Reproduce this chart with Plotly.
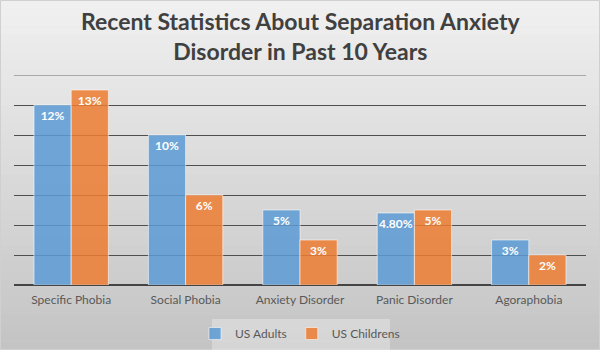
import plotly.graph_objects as go

categories = ["Specific Phobia", "Social Phobia", "Anxiety Disorder", "Panic Disorder", "Agoraphobia"]
adults = [12, 10, 5, 4.8, 3]
children = [13, 6, 3, 5, 2]
adult_labels = ["12%", "10%", "5%", "4.80%", "3%"]
child_labels = ["13%", "6%", "3%", "5%", "2%"]
title_text = "Recent Statistics About Separation Anxiety<br>Disorder in Past 10 Years"
y_max = 14

W, H = 600, 350
L, R, T, B = 14, 14, 75, 65
pw, ph = W - L - R, H - T - B

def px_x(x):
    return (x - L) / pw

def px_y(y):
    return (H - B - y) / ph

fig = go.Figure()
fig.add_trace(go.Bar(
    name="US Adults", x=categories, y=adults, text=adult_labels,
    marker=dict(color="rgba(91,155,213,0.85)", line=dict(color="rgba(255,255,255,0.55)", width=1)),
    textposition="inside", insidetextanchor="end", textangle=0,
    textfont=dict(color="white", size=12, family="Lato", weight="bold"),
))
fig.add_trace(go.Bar(
    name="US Childrens", x=categories, y=children, text=child_labels,
    marker=dict(color="rgba(237,125,49,0.85)", line=dict(color="rgba(255,255,255,0.55)", width=1)),
    textposition="inside", insidetextanchor="end", textangle=0,
    textfont=dict(color="white", size=12, family="Lato", weight="bold"),
))

# background gradient
shapes = []
n = 40
top = (240, 240, 240)
bot = (196, 196, 196)
for i in range(n):
    f = i / (n - 1)
    c = tuple(int(round(top[k] + (bot[k] - top[k]) * f)) for k in range(3))
    y0 = H * i / n
    y1 = H * (i + 1) / n + 0.5
    shapes.append(dict(type="rect", xref="paper", yref="paper", layer="below",
                       x0=px_x(0), x1=px_x(W), y0=px_y(y1), y1=px_y(y0),
                       line=dict(width=0), fillcolor="rgb(%d,%d,%d)" % c))
shapes.append(dict(type="rect", xref="paper", yref="paper", layer="below",
                   x0=px_x(0.5), x1=px_x(W - 0.5), y0=px_y(H - 0.5), y1=px_y(0.5),
                   line=dict(width=1, color="#d0d0d0"), fillcolor="rgba(0,0,0,0)"))
shapes.append(dict(type="rect", xref="paper", yref="paper", layer="below",
                   x0=px_x(212), x1=px_x(390), y0=px_y(H), y1=px_y(319),
                   line=dict(width=0), fillcolor="rgba(235,235,235,0.45)"))
# top gridline
shapes.append(dict(type="line", xref="paper", yref="y", layer="below",
                   x0=0, x1=1, y0=y_max, y1=y_max, line=dict(width=1.2, color="#6a6a6a")))

fig.update_layout(
    width=W, height=H,
    margin=dict(l=L, r=R, t=T, b=B, autoexpand=False),
    paper_bgcolor="#dcdcdc", plot_bgcolor="rgba(0,0,0,0)",
    shapes=shapes,
    annotations=[dict(text=title_text, xref="paper", yref="paper", x=0.5, xanchor="center",
                      y=px_y(5), yanchor="top", showarrow=False, align="center",
                      font=dict(family="Lato", size=23, color="#404040", weight="bold"))],
    barmode="group", bargap=0.35, bargroupgap=0,
    xaxis=dict(showgrid=False, showline=False, ticks="", ticklabelstandoff=6,
               tickfont=dict(family="Lato", size=12, color="#595959")),
    yaxis=dict(range=[0, y_max], dtick=2, showticklabels=False, gridcolor="#4f4f4f", gridwidth=1.2,
               zeroline=True, zerolinecolor="#444444", zerolinewidth=2, showline=False),
    legend=dict(orientation="h", x=0.5, xanchor="center", y=px_y(319), yanchor="top",
                itemwidth=30, tracegroupgap=0,
                bgcolor="rgba(0,0,0,0)", font=dict(family="Lato", size=12, color="#595959")),
    uniformtext=dict(minsize=12, mode="show"),
)

fig.write_html("out.html")
